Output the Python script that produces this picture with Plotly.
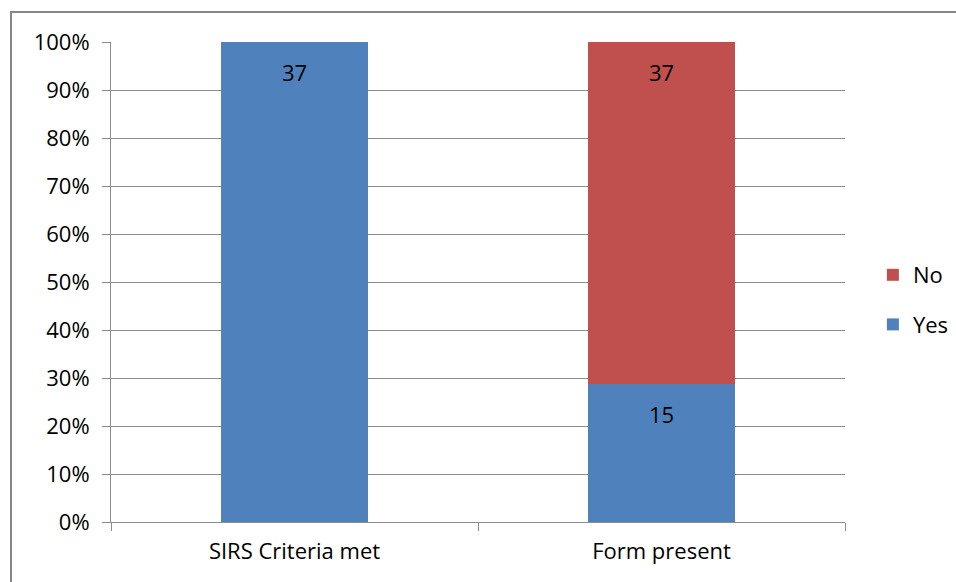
import plotly.graph_objects as go

# Chart data
categories = ["SIRS Criteria met", "Form present"]
yes_counts = [37, 15]
no_counts = [0, 37]

BLUE = "#4F81BD"
RED = "#C0504D"
GRID = "#8C8C8C"
FONT = "Open Sans"
SIZE = 22

fig = go.Figure()
fig.add_trace(go.Bar(
    name="Yes", x=categories, y=yes_counts,
    marker=dict(color=BLUE, line=dict(width=0)),
    legendrank=2, legendgroup="yes",
))
fig.add_trace(go.Bar(
    name="No", x=categories, y=no_counts,
    marker=dict(color=RED, line=dict(width=0)),
    legendrank=1, legendgroup="no",
))

# Data labels: placed just inside the top of each stacked segment
annotations = []
for i, cat in enumerate(categories):
    total = yes_counts[i] + no_counts[i]
    base = 0.0
    for val in (yes_counts[i], no_counts[i]):
        if val > 0:
            top = base + 100.0 * val / total
            annotations.append(dict(
                x=cat, y=top, xref="x", yref="y",
                text=str(val), showarrow=False,
                yanchor="middle", yshift=-30,
                font=dict(family=FONT, size=SIZE, color="#000000"),
            ))
            base = top

fig.update_layout(
    barmode="stack", barnorm="percent", bargap=0.6,
    width=956, height=582,
    margin=dict(l=111, r=111, t=42, b=60, autoexpand=False),
    paper_bgcolor="white", plot_bgcolor="white",
    font=dict(family=FONT, size=SIZE, color="#000000"),
    showlegend=True,
    legend=dict(
        x=1.038, y=0.4625, xanchor="left", yanchor="middle",
        traceorder="grouped", tracegroupgap=18,
        font=dict(family=FONT, size=SIZE, color="#000000"),
        itemwidth=30,
    ),
    xaxis=dict(
        showline=True, linecolor=GRID, linewidth=1,
        ticks="outside", tickson="boundaries", ticklen=8, tickcolor=GRID,
        showgrid=False, ticklabelstandoff=10,
        tickfont=dict(family=FONT, size=SIZE, color="#000000"),
    ),
    yaxis=dict(
        range=[0, 100], dtick=10, ticksuffix="%",
        showline=True, linecolor=GRID, linewidth=1,
        ticks="outside", ticklen=8, tickcolor=GRID,
        showgrid=True, gridcolor=GRID, gridwidth=1,
        zeroline=False, ticklabelstandoff=8,
        tickfont=dict(family=FONT, size=SIZE, color="#000000"),
    ),
    annotations=annotations,
    shapes=[dict(
        type="rect", xref="paper", yref="paper",
        x0=-0.1362, x1=1.25, y0=-0.25, y1=1.0625,
        line=dict(color="#868686", width=2), fillcolor="rgba(0,0,0,0)",
        layer="below",
    )],
)

fig.write_html("out.html")
